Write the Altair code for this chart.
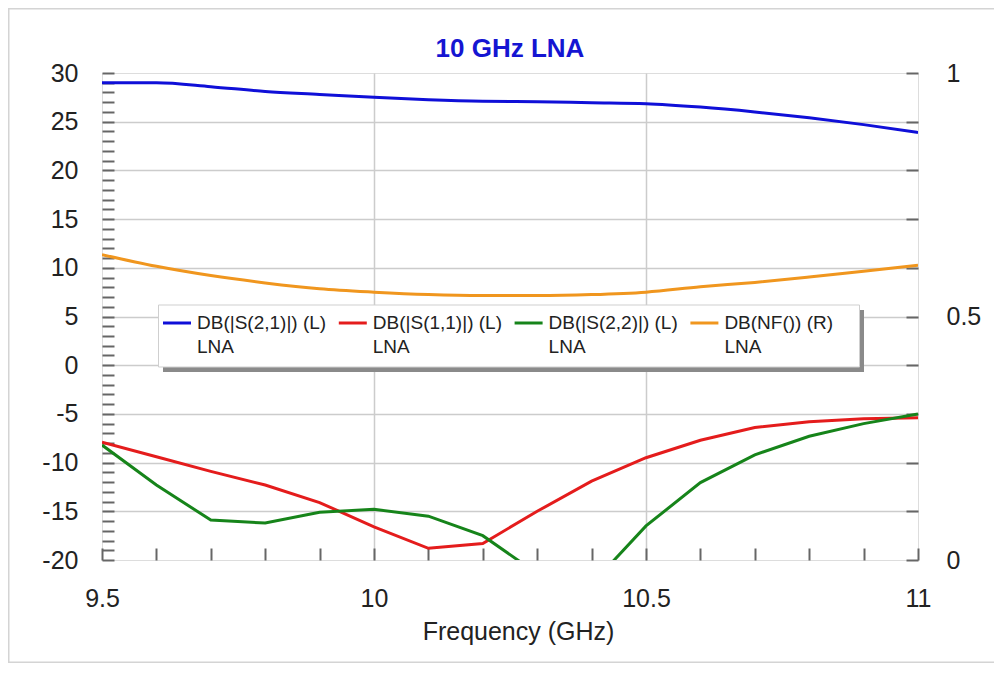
import altair as alt
import pandas as pd

# ---- data ----
freq = [9.5, 9.6, 9.7, 9.8, 9.9, 10.0, 10.1, 10.2, 10.3, 10.4, 10.5, 10.6, 10.7, 10.8, 10.9, 11.0]
s21_db = [29.0, 29.0, 28.6, 28.1, 27.8, 27.5, 27.26, 27.1, 27.05, 26.95, 26.85, 26.5, 26.0, 25.4, 24.7, 23.9]
s11_db = [-7.9, -9.4, -10.9, -12.3, -14.1, -16.6, -18.8, -18.3, -15.0, -11.9, -9.5, -7.7, -6.4, -5.8, -5.5, -5.4]
s22_db = [-8.2, -12.3, -15.9, -16.2, -15.1, -14.8, -15.5, -17.5, -21.4, -22.5, -16.5, -12.05, -9.2, -7.3, -6.0, -5.0]
nf_db = [0.627, 0.603, 0.584, 0.569, 0.557, 0.550, 0.545, 0.543, 0.543, 0.545, 0.550, 0.561, 0.570, 0.581, 0.593, 0.605]

series_names = ["DB(|S(2,1)|) (L)", "DB(|S(1,1)|) (L)", "DB(|S(2,2)|) (L)", "DB(NF()) (R)"]
series_sub = ["LNA", "LNA", "LNA", "LNA"]
series_colors = ["#0f0fd8", "#e41c1c", "#16841a", "#f0961e"]

x_ticks = [9.5, 9.6, 9.7, 9.8, 9.9, 10.0, 10.1, 10.2, 10.3, 10.4, 10.5, 10.6, 10.7, 10.8, 10.9, 11.0]
y_left_ticks = list(range(-20, 31))
y_right_ticks = [0, 0.1, 0.2, 0.3, 0.4, 0.5, 0.6, 0.7, 0.8, 0.9, 1]

title_text = ["10 GHz LNA"]
x_title = "Frequency (GHz)"

FONT = "Liberation Sans"
AXIS_COL = "#666666"
TXT_COL = "#222222"

# ---- tables ----
df_s21 = pd.DataFrame({"freq": freq, "value": s21_db, "series": series_names[0]})
df_s11_s22 = pd.concat([
    pd.DataFrame({"freq": freq, "value": s11_db, "series": series_names[1]}),
    pd.DataFrame({"freq": freq, "value": s22_db, "series": series_names[2]}),
])
df_nf = pd.DataFrame({"freq": freq, "value": nf_db, "series": series_names[3]})
df_leg = pd.DataFrame({"series": series_names, "sub": series_sub, "i": list(range(4))})
df_title = pd.DataFrame({"t": title_text})

color = alt.Color("series:N", scale=alt.Scale(domain=series_names, range=series_colors), legend=None)

half = "abs(datum.value*2 - round(datum.value*2)) < 0.001"
x_axis = alt.Axis(
    values=x_ticks, orient="bottom", offset=-12, tickSize=12, tickWidth=2, tickColor=AXIS_COL,
    domain=False, labelExpr=f"{half} ? '' + datum.value : ''", labelPadding=26,
    labelFlush=False, labelOverlap=False, labelFontSize=25, labelColor=TXT_COL, labelFont=FONT,
    grid=True, gridColor="#cccccc", gridWidth=1.5,
    gridOpacity={"condition": {"test": f"{half} && datum.value > 9.6 && datum.value < 10.9", "value": 1}, "value": 0},
    title=x_title, titleFontSize=25, titleFontWeight="normal", titleColor=TXT_COL, titleFont=FONT,
    titlePadding=8, titleX=416,
)
y_left_axis = alt.Axis(
    values=y_left_ticks, orient="left", offset=-12, tickSize=12, tickWidth=2, tickColor=AXIS_COL,
    domain=False, labelExpr="datum.value % 5 == 0 ? '' + datum.value : ''", labelPadding=24,
    labelOverlap=False, labelFontSize=25, labelColor=TXT_COL, labelFont=FONT, labelBaseline="middle",
    grid=True, gridColor="#cccccc", gridWidth=1.5,
    gridOpacity={"condition": {"test": "datum.value % 5 == 0 && datum.value > -20 && datum.value < 30", "value": 1}, "value": 0},
    title=None,
)
y_right_axis = alt.Axis(
    values=y_right_ticks, orient="right", offset=-12, tickSize=12, tickWidth=2, tickColor=AXIS_COL,
    domain=False, labelExpr="(datum.value == 0 || datum.value == 0.5 || datum.value == 1) ? '' + datum.value : ''",
    labelPadding=28, labelOverlap=False, labelFontSize=25, labelColor=TXT_COL, labelFont=FONT,
    labelBaseline="middle", grid=False, title=None,
)

X = alt.X("freq:Q", scale=alt.Scale(domain=[9.5, 11], nice=False, zero=False), axis=x_axis)
Y_L = alt.Y("value:Q", scale=alt.Scale(domain=[-20, 30], nice=False, zero=False), axis=y_left_axis)
Y_R = alt.Y("value:Q", scale=alt.Scale(domain=[0, 1], nice=False, zero=False), axis=y_right_axis)

blue = alt.Chart(df_s21).mark_line(clip=True, strokeWidth=3, interpolate="monotone").encode(x=X, y=Y_L, color=color)
red_green = alt.Chart(df_s11_s22).mark_line(clip=True, strokeWidth=3).encode(x=X, y=Y_L, color=color)
left = alt.layer(blue, red_green)

right = alt.Chart(df_nf).mark_line(clip=True, strokeWidth=3, interpolate="monotone").encode(x=X, y=Y_R, color=color)

# ---- outer frame (decoration): thin filled bands for top, left and bottom edges ----
one = pd.DataFrame({"k": [0]})
FR = "#d4d4d4"
frame_top = alt.Chart(one).mark_rect(fill=FR, clip=False).encode(
    x=alt.value(-94), x2=alt.value(2000), y=alt.value(-65), y2=alt.value(-63.5)
)
frame_left = alt.Chart(one).mark_rect(fill=FR, clip=False).encode(
    x=alt.value(-94), x2=alt.value(-92.5), y=alt.value(-65), y2=alt.value(590)
)
frame_bottom = alt.Chart(one).mark_rect(fill=FR, clip=False).encode(
    x=alt.value(-94), x2=alt.value(2000), y=alt.value(588.5), y2=alt.value(590)
)

# ---- title as a text mark ----
title = alt.Chart(df_title).mark_text(
    align="center", baseline="alphabetic", fontSize=26, fontWeight="bold", font=FONT,
    color="#1515d2", clip=False
).encode(x=alt.value(408), y=alt.value(-16), text="t:N")

# ---- legend box (decoration) ----
shadow = alt.Chart(one).mark_rect(fill="#8a8a8a", clip=False).encode(
    x=alt.value(61), x2=alt.value(762), y=alt.value(237), y2=alt.value(299)
)
box = alt.Chart(one).mark_rect(fill="white", stroke="#cfcfcf", strokeWidth=1, clip=False).encode(
    x=alt.value(56.5), x2=alt.value(757.5), y=alt.value(232), y2=alt.value(294)
)
leg_base = alt.Chart(df_leg).transform_calculate(
    lx0="61 + datum.i * 175.8", lx1="89 + datum.i * 175.8", tx="95 + datum.i * 175.8"
)
leg_sym = leg_base.mark_rule(strokeWidth=3, clip=False).encode(
    x=alt.X("lx0:Q", scale=None), x2="lx1:Q", y=alt.value(250), color=color
)
leg_txt1 = leg_base.mark_text(align="left", baseline="middle", fontSize=19, font=FONT, color=TXT_COL, clip=False).encode(
    x=alt.X("tx:Q", scale=None), y=alt.value(250), text="series:N"
)
leg_txt2 = leg_base.mark_text(align="left", baseline="middle", fontSize=19, font=FONT, color=TXT_COL, clip=False).encode(
    x=alt.X("tx:Q", scale=None), y=alt.value(274), text="sub:N"
)
legend = alt.layer(shadow, box, leg_sym, leg_txt1, leg_txt2)

chart = alt.layer(frame_top, frame_left, frame_bottom, title, left, right, legend).resolve_scale(y="independent").properties(
    width=816, height=487,
    padding={"left": 94, "top": 65, "right": 76, "bottom": 103},
    autosize=alt.AutoSizeParams(type="none"),
).configure_view(stroke=AXIS_COL, strokeWidth=2).configure(font=FONT, background="white")

chart.save("out.html", embed_options={"renderer": "svg", "actions": False})
